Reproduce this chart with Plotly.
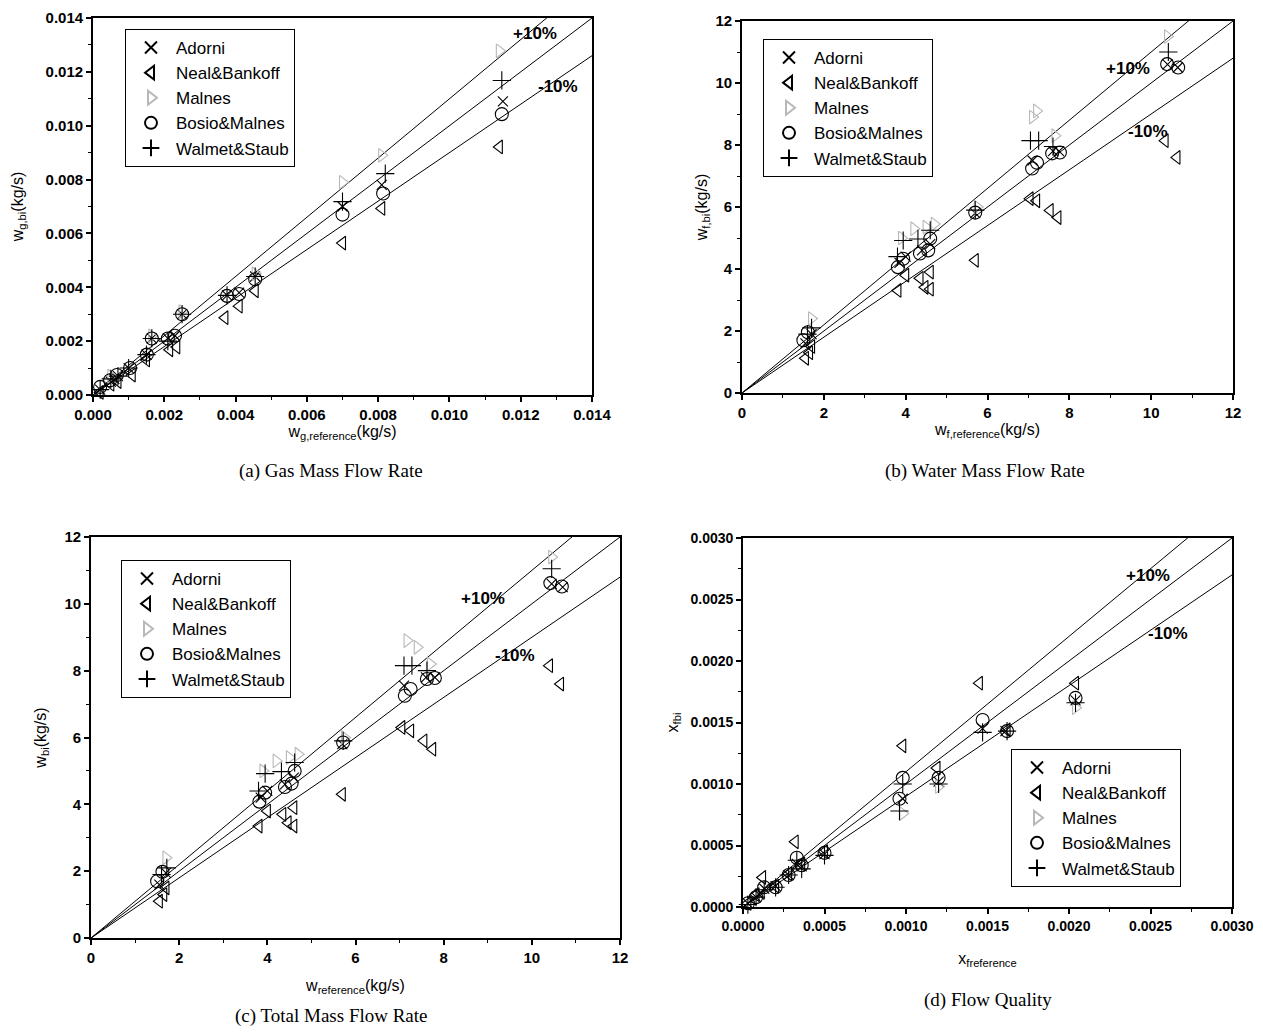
import plotly.graph_objects as go

# ---------------- DATA ----------------
series_names = ["Adorni", "Neal&Bankoff", "Malnes", "Bosio&Malnes", "Walmet&Staub"]

# (a) Gas mass flow rate (kg/s)
a_adorni_x = [0.0002, 0.0005, 0.0006, 0.0007, 0.0010, 0.0015, 0.00165, 0.0021, 0.0023, 0.0025, 0.00376, 0.0041, 0.00455, 0.0070, 0.0081, 0.0115]
a_adorni_y = [0.0002, 0.0005, 0.0006, 0.0007, 0.0010, 0.0015, 0.0021, 0.0021, 0.0022, 0.0030, 0.0037, 0.0038, 0.0044, 0.0070, 0.0078, 0.0109]
a_neal_x = [0.0002, 0.0005, 0.0007, 0.0011, 0.0015, 0.00215, 0.00235, 0.0037, 0.0041, 0.00455, 0.0070, 0.0081, 0.0114]
a_neal_y = [0.0001, 0.0004, 0.0005, 0.00074, 0.0013, 0.00168, 0.00178, 0.00287, 0.0033, 0.00387, 0.00564, 0.00693, 0.00921]
a_malnes_x = [0.0005, 0.00165, 0.0025, 0.00455, 0.0070, 0.0081, 0.0114]
a_malnes_y = [0.0007, 0.0022, 0.0031, 0.0045, 0.0079, 0.0089, 0.01278]
a_bosio_x = [0.0002, 0.00048, 0.00067, 0.00104, 0.00151, 0.00165, 0.0021, 0.0023, 0.0025, 0.00376, 0.0041, 0.00455, 0.0070, 0.00814, 0.01147]
a_bosio_y = [0.0003, 0.00055, 0.00074, 0.0010, 0.0015, 0.0021, 0.0021, 0.0022, 0.0030, 0.00368, 0.00375, 0.0043, 0.0067, 0.00748, 0.01043]
a_walmet_x = [0.0002, 0.0005, 0.0007, 0.0010, 0.0015, 0.00165, 0.0021, 0.0025, 0.00376, 0.00455, 0.0070, 0.0082, 0.01147]
a_walmet_y = [0.0002, 0.0006, 0.0007, 0.0010, 0.0015, 0.0021, 0.0020, 0.0030, 0.0037, 0.0044, 0.00718, 0.00822, 0.01168]

# (b) Water mass flow rate (kg/s)
b_adorni_x = [1.55, 1.70, 3.85, 4.00, 4.40, 4.60, 5.70, 7.10, 7.60, 7.75, 10.40, 10.65]
b_adorni_y = [1.60, 1.90, 4.20, 4.40, 4.60, 4.80, 5.80, 7.50, 7.80, 7.80, 10.60, 10.50]
b_neal_x = [1.55, 1.65, 1.70, 3.81, 4.00, 4.35, 4.47, 4.60, 4.60, 5.70, 7.04, 7.20, 7.53, 7.72, 10.34, 10.63]
b_neal_y = [1.12, 1.30, 1.50, 3.31, 3.80, 3.70, 3.41, 3.35, 3.90, 4.28, 6.27, 6.20, 5.89, 5.66, 8.14, 7.60]
b_malnes_x = [1.70, 3.90, 4.20, 4.50, 4.70, 5.75, 7.10, 7.20, 7.65, 10.40]
b_malnes_y = [2.40, 5.00, 5.30, 5.35, 5.45, 6.00, 8.90, 9.10, 8.30, 11.50]
b_bosio_x = [1.50, 1.61, 3.81, 3.94, 4.35, 4.55, 4.60, 5.70, 7.09, 7.21, 7.58, 7.77, 10.39, 10.66]
b_bosio_y = [1.70, 1.96, 4.06, 4.33, 4.50, 4.60, 4.98, 5.82, 7.24, 7.43, 7.73, 7.76, 10.61, 10.50]
b_walmet_x = [1.60, 1.70, 3.80, 3.94, 4.30, 4.60, 5.70, 7.05, 7.25, 7.60, 10.42]
b_walmet_y = [1.90, 2.10, 4.40, 4.92, 4.97, 5.25, 5.90, 8.14, 8.14, 7.95, 11.00]

# (c) Total mass flow rate (kg/s)
c_adorni_x = [1.55, 1.70, 3.85, 4.00, 4.40, 4.60, 5.70, 7.10, 7.60, 7.80, 10.45, 10.70]
c_adorni_y = [1.60, 1.95, 4.20, 4.40, 4.60, 4.80, 5.80, 7.55, 7.80, 7.80, 10.60, 10.50]
c_neal_x = [1.55, 1.65, 1.70, 3.81, 4.00, 4.35, 4.47, 4.60, 4.60, 5.70, 7.05, 7.25, 7.55, 7.75, 10.40, 10.65]
c_neal_y = [1.10, 1.30, 1.50, 3.35, 3.80, 3.70, 3.45, 3.35, 3.90, 4.30, 6.30, 6.20, 5.90, 5.65, 8.15, 7.60]
c_malnes_x = [1.70, 3.90, 4.20, 4.50, 4.70, 5.75, 7.17, 7.40, 7.70, 10.45]
c_malnes_y = [2.40, 5.00, 5.30, 5.40, 5.50, 6.00, 8.90, 8.70, 8.20, 11.40]
c_bosio_x = [1.50, 1.62, 3.82, 3.95, 4.40, 4.55, 4.62, 5.72, 7.12, 7.25, 7.62, 7.80, 10.42, 10.68]
c_bosio_y = [1.70, 1.98, 4.08, 4.35, 4.52, 4.62, 5.00, 5.85, 7.25, 7.45, 7.75, 7.78, 10.62, 10.52]
c_walmet_x = [1.60, 1.72, 3.80, 3.95, 4.32, 4.62, 5.72, 7.10, 7.28, 7.62, 10.45]
c_walmet_y = [1.90, 2.10, 4.40, 4.92, 4.98, 5.25, 5.90, 8.15, 8.15, 8.00, 11.05]

# (d) Flow quality
d_adorni_x = [0.00003, 0.00008, 0.00010, 0.00013, 0.00020, 0.00028, 0.00033, 0.00036, 0.00050, 0.00098, 0.00120, 0.00147, 0.00161, 0.00204]
d_adorni_y = [0.00003, 0.00008, 0.00010, 0.00015, 0.00017, 0.00026, 0.00035, 0.00033, 0.00043, 0.00088, 0.00102, 0.00145, 0.00143, 0.00168]
d_neal_x = [0.00003, 0.00008, 0.00012, 0.00020, 0.00028, 0.00032, 0.00036, 0.00050, 0.00098, 0.00119, 0.00145, 0.00162, 0.00204]
d_neal_y = [0.00003, 0.00010, 0.00024, 0.00017, 0.00027, 0.00053, 0.00035, 0.00045, 0.00131, 0.00113, 0.00182, 0.00144, 0.00182]
d_malnes_x = [0.00098, 0.00120, 0.00204]
d_malnes_y = [0.00076, 0.00098, 0.00162]
d_bosio_x = [0.00003, 0.00008, 0.00013, 0.00020, 0.00028, 0.00033, 0.00036, 0.00050, 0.00098, 0.00096, 0.00120, 0.00147, 0.00162, 0.00204]
d_bosio_y = [0.00003, 0.00008, 0.00016, 0.00016, 0.00026, 0.00040, 0.00034, 0.00044, 0.00105, 0.00088, 0.00105, 0.00152, 0.00143, 0.00170]
d_walmet_x = [0.00003, 0.00008, 0.00013, 0.00020, 0.00028, 0.00033, 0.00036, 0.00050, 0.00096, 0.00098, 0.00120, 0.00147, 0.00162, 0.00204]
d_walmet_y = [0.00002, 0.00008, 0.00014, 0.00016, 0.00026, 0.00038, 0.00031, 0.00042, 0.00078, 0.00100, 0.00100, 0.00142, 0.00143, 0.00166]

axis_max = [0.014, 12, 12, 0.003]
ratio_lines = [1.0, 1.1, 0.9]
captions = ["(a) Gas Mass Flow Rate", "(b) Water Mass Flow Rate", "(c) Total Mass Flow Rate", "(d) Flow Quality"]
x_titles = ["w<sub>g,reference</sub>(kg/s)", "w<sub>f,reference</sub>(kg/s)", "w<sub>reference</sub>(kg/s)", "x<sub>freference</sub>"]
y_titles = ["w<sub>g,bi</sub>(kg/s)", "w<sub>f,bi</sub>(kg/s)", "w<sub>bi</sub>(kg/s)", "x<sub>fbi</sub>"]
band_labels = ["+10%", "-10%"]

panels = [
    [(a_adorni_x, a_adorni_y), (a_neal_x, a_neal_y), (a_malnes_x, a_malnes_y), (a_bosio_x, a_bosio_y), (a_walmet_x, a_walmet_y)],
    [(b_adorni_x, b_adorni_y), (b_neal_x, b_neal_y), (b_malnes_x, b_malnes_y), (b_bosio_x, b_bosio_y), (b_walmet_x, b_walmet_y)],
    [(c_adorni_x, c_adorni_y), (c_neal_x, c_neal_y), (c_malnes_x, c_malnes_y), (c_bosio_x, c_bosio_y), (c_walmet_x, c_walmet_y)],
    [(d_adorni_x, d_adorni_y), (d_neal_x, d_neal_y), (d_malnes_x, d_malnes_y), (d_bosio_x, d_bosio_y), (d_walmet_x, d_walmet_y)],
]

# ---------------- STYLE ----------------
OFF = 8                      # default page body margin
W, H = 1263 - 2 * OFF, 1036 - 2 * OFF


def fx(px):
    return (px - OFF) / W


def fy(py):
    return 1 - (py - OFF) / H


# plot areas in screen pixels: (left, right, top, bottom)
areas = [(93, 592, 18, 395), (742, 1233, 21, 393), (91, 620, 537, 938), (743, 1232, 538, 907)]
legend_pos = [(125, 29), (763, 39), (121, 560), (1011, 749)]
label_pos = [[(535, 33), (558, 87)], [(1128, 68), (1148, 131)], [(483, 598), (515, 655)], [(1148, 575), (1168, 633)]]
caption_pos = [(331, 471), (985, 471), (331, 1016), (988, 1000)]
dticks = [0.002, 2, 2, 0.0005]
minor_dticks = [0.001, 1, 1, 0.00025]
tickformats = [".3f", "d", "d", ".4f"]
tick_sizes = [15, 15, 15, 14]
x_standoffs = [2, 2, 15, 20]
y_standoffs = [18, 4, 14, 8]

symbols = ["x-thin-open", "triangle-left-open", "triangle-right-open", "circle-open", "cross-thin-open"]
sizes = [10, 12, 12, 13, 13]
colors = ["black", "black", "#b8b8b8", "black", "black"]

fig = go.Figure()
layout_axes = {}
annotations = []
for p in range(4):
    l, r, t, b = areas[p]
    xa = "xaxis" if p == 0 else f"xaxis{p+1}"
    ya = "yaxis" if p == 0 else f"yaxis{p+1}"
    xref = "x" if p == 0 else f"x{p+1}"
    yref = "y" if p == 0 else f"y{p+1}"
    leg = "legend" if p == 0 else f"legend{p+1}"
    m = axis_max[p]
    for ratio in ratio_lines:
        fig.add_trace(go.Scatter(x=[0, m], y=[0, m * ratio], mode="lines",
                                 line=dict(color="black", width=1), showlegend=False,
                                 xaxis=xref, yaxis=yref, hoverinfo="skip"))
    for s, (xs, ys) in enumerate(panels[p]):
        fig.add_trace(go.Scatter(x=xs, y=ys, mode="markers", name=series_names[s],
                                 marker=dict(symbol=symbols[s], size=sizes[s], color=colors[s],
                                             line=dict(color=colors[s], width=1.1)),
                                 xaxis=xref, yaxis=yref, legend=leg, cliponaxis=False))
    common = dict(showline=True, linecolor="black", linewidth=1.8, mirror=True,
                  ticks="outside", ticklen=5, tickwidth=1.5, tickcolor="black",
                  showgrid=False, zeroline=False, range=[0, m], dtick=dticks[p], tick0=0,
                  tickformat=tickformats[p], automargin=False, ticklabeloverflow="allow",
                  tickfont=dict(family="Arial", size=tick_sizes[p], color="black", weight="bold"),
                  minor=dict(ticks="outside", ticklen=3, dtick=minor_dticks[p], tickcolor="black", tickwidth=1),
                  title_font=dict(family="Arial", size=16, color="black"))
    layout_axes[xa] = dict(common, domain=[fx(l), fx(r)], anchor=yref,
                           title=dict(text=x_titles[p], standoff=x_standoffs[p]))
    layout_axes[ya] = dict(common, domain=[fy(b), fy(t)], anchor=xref,
                           title=dict(text=y_titles[p], standoff=y_standoffs[p]))
    lx, ly = legend_pos[p]
    layout_axes[leg] = dict(x=fx(lx), y=fy(ly), xanchor="left", yanchor="top",
                            bgcolor="white", bordercolor="black", borderwidth=1,
                            font=dict(family="Arial", size=17, color="black"),
                            itemsizing="constant", itemwidth=40)
    for k, txt in enumerate(band_labels):
        px, py = label_pos[p][k]
        annotations.append(dict(x=fx(px), y=fy(py), xref="paper", yref="paper",
                                xanchor="center", yanchor="middle",
                                text=txt, showarrow=False,
                                font=dict(family="Arial", size=17, color="black", weight="bold")))
    cx, cy = caption_pos[p]
    annotations.append(dict(x=fx(cx), y=fy(cy), xref="paper", yref="paper",
                            xanchor="center", yanchor="middle",
                            text=captions[p], showarrow=False,
                            font=dict(family="Liberation Serif", size=19, color="black")))

fig.update_layout(width=W, height=H, margin=dict(l=0, r=0, t=0, b=0, autoexpand=False),
                  paper_bgcolor="white", plot_bgcolor="white",
                  annotations=annotations, **layout_axes)

fig.write_html("out.html")
